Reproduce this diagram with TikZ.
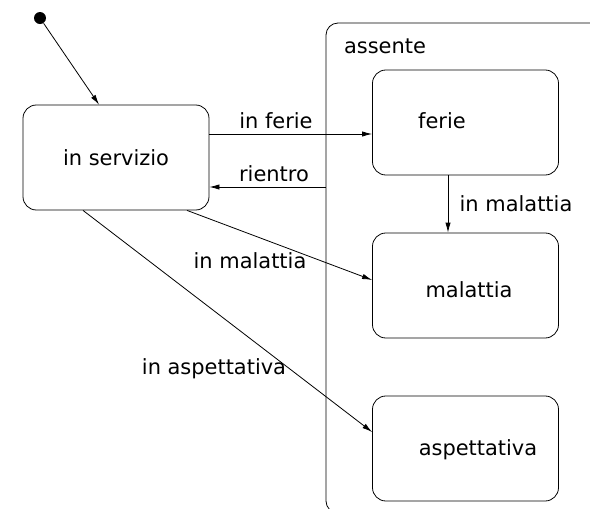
\documentclass[tikz,border=0pt]{standalone}
\usepackage{fontspec}
\setmainfont{DejaVu Sans}
\usetikzlibrary{arrows.meta}

\begin{document}
\begin{tikzpicture}[x=0.75pt,y=-0.75pt,line width=0.6pt,
    font=\fontsize{15.7}{18}\selectfont,
    state/.style={draw,rounded corners=10pt,inner sep=0pt,minimum width=139.5pt,minimum height=78.75pt},
    trans/.style={-{Latex[length=7.5pt,width=4pt]}}]
        \useasboundingbox (0,0) rectangle (590,508);
        \clip (0,0) rectangle (590,508);

        \node[draw,rounded corners=9pt,inner sep=0pt,minimum width=213pt,minimum height=367.5pt] (assente) at (468,268) {};
        \node (assente-t) at (385,46) {assente};

        \node[circle,fill,inner sep=0pt,minimum size=9pt] (init) at (40,18) {};
        \node[state] (insv) at (116,157.5) {in servizio};
        \node[state] (ferie) at (465.5,122.5) {};
        \node[state] (malattia) at (465.5,285.5) {};
        \node[state] (aspett) at (465.5,448.5) {};
        \node (ferie-t) at (442,121) {ferie};
        \node (malattia-t) at (469,290) {malattia};
        \node (aspett-t) at (478,450) {aspettativa};

        \coordinate (rientro-s) at (assente.west |- 0,187);

        \draw[trans] (init) -- (insv.north -| 99,0);
        \draw[trans] (insv.east |- 0,134) -- (ferie.west |- 0,134);
        \draw[trans] (rientro-s) -- (insv.east |- rientro-s);
        \draw[trans] (ferie.south -| 448,0) -- (malattia.north -| 448,0);
        \draw[trans] (insv.south -| 187,0) -- (malattia.west |- 0,280);
        \draw[trans] (insv.south -| 83,0) -- (aspett.west |- 0,432);

        \node (l-ferie) at (276,121) {in ferie};
        \node (l-rientro) at (274,174) {rientro};
        \node (l-malattia1) at (516,204) {in malattia};
        \node (l-malattia2) at (250,261) {in malattia};
        \node (l-aspett) at (214,369) {in aspettativa};
    \end{tikzpicture}
\end{document}
